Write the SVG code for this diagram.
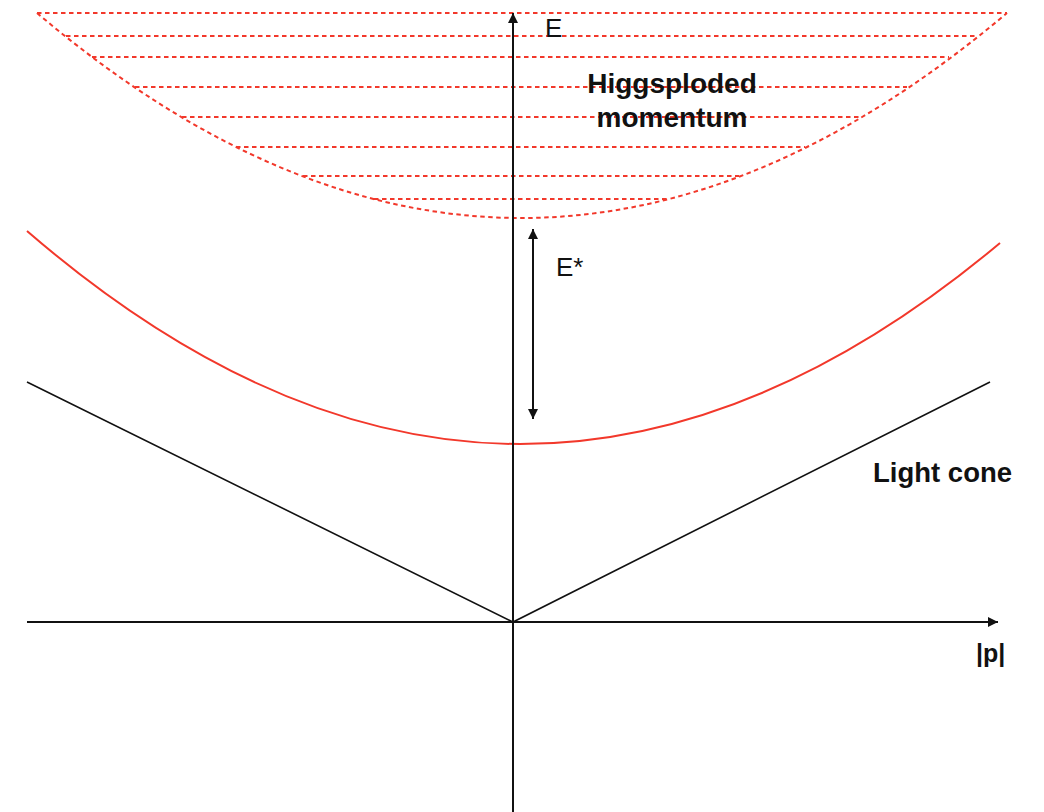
<svg xmlns="http://www.w3.org/2000/svg" width="1044" height="812" viewBox="0 0 1044 812">
<style>
.dash{fill:none;stroke:#f2382b;stroke-width:2;stroke-dasharray:4.5 3.5}
.axis{fill:none;stroke:#111;stroke-width:2}
.cone{fill:none;stroke:#111;stroke-width:1.6}
.red{fill:none;stroke:#f2382b;stroke-width:2}
.lbl{font-family:"Liberation Sans",Arial,sans-serif;fill:#111}
.b{font-weight:bold}
</style>
<defs>
<marker id="ah" viewBox="0 0 10 10" refX="10" refY="5" markerWidth="10" markerHeight="10" markerUnits="userSpaceOnUse" orient="auto-start-reverse">
<path d="M0,0 L10,5 L0,10 Z" fill="#111"/>
</marker>
</defs>
<g id="higgsploded-region">
<path class="dash" d="M37,13 Q279,218 521,218 Q764,218 1007,13"/>
<line class="dash" x1="37" y1="13" x2="1007" y2="13"/>
<line class="dash" x1="66" y1="36" x2="976" y2="36"/>
<line class="dash" x1="92" y1="57" x2="949" y2="57"/>
<line class="dash" x1="135" y1="87" x2="907" y2="87"/>
<line class="dash" x1="182" y1="117" x2="860" y2="117"/>
<line class="dash" x1="236" y1="147" x2="805" y2="147"/>
<line class="dash" x1="303" y1="176" x2="739" y2="176"/>
<line class="dash" x1="374" y1="199" x2="668" y2="199"/>
</g>
<g id="mass-curve">
<path class="red" d="M27,231 Q273.5,444 520,444 Q760,444 1000,243"/>
</g>
<g id="light-cone">
<polyline class="cone" points="27,382 513,622 990,382"/>
</g>
<g id="connectors">
<line class="axis" x1="513" y1="812" x2="513" y2="13" marker-end="url(#ah)"/>
<line class="axis" x1="27" y1="622" x2="998" y2="622" marker-end="url(#ah)"/>
<line class="axis" x1="533" y1="229" x2="533" y2="419" marker-start="url(#ah)" marker-end="url(#ah)"/>
</g>
<g id="labels">
<text class="lbl" x="545" y="37" font-size="26">E</text>
<text class="lbl" x="556" y="276" font-size="26">E*</text>
<text class="lbl b" x="672" y="93" font-size="28" text-anchor="middle">Higgsploded</text>
<text class="lbl b" x="672" y="127" font-size="28" text-anchor="middle">momentum</text>
<text class="lbl b" x="873" y="482" font-size="27.5">Light cone</text>
<text class="lbl b" x="976" y="662" font-size="25">|p|</text>
</g>
</svg>
